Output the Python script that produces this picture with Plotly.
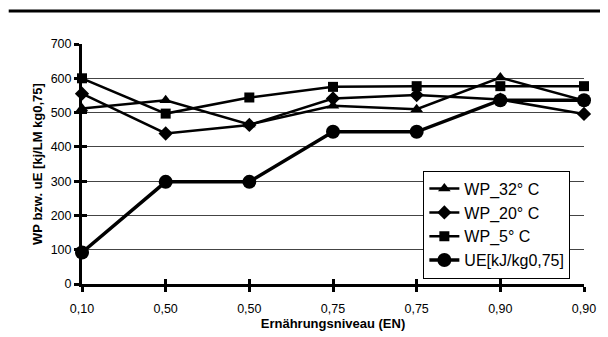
import plotly.graph_objects as go

# Data
tick_labels = ["0,10", "0,50", "0,50", "0,75", "0,75", "0,90", "0,90"]
positions = list(range(len(tick_labels)))
wp_32 = [512, 536, 465, 520, 510, 602, 535]
wp_20 = [555, 439, 464, 541, 551, 538, 496]
wp_5 = [600, 497, 544, 575, 577, 577, 577]
ue = [92, 298, 298, 444, 444, 536, 536]

series = [
    ("WP_32° C", wp_32, "triangle-up", 11, 2.5),
    ("WP_20° C", wp_20, "diamond", 11, 2.5),
    ("WP_5° C", wp_5, "square", 10, 2.5),
    ("UE[kJ/kg0,75]", ue, "circle", 14, 3.5),
]

fig = go.Figure()
for name, vals, sym, size, lw in series:
    fig.add_trace(go.Scatter(
        x=positions, y=vals, name=name, mode="lines+markers",
        line=dict(color="black", width=lw),
        marker=dict(symbol=sym, size=size, color="black"),
        cliponaxis=False,
    ))

# overlay axes for inward part of crossing ticks
fig.add_trace(go.Scatter(x=[0], y=[0], xaxis="x2", yaxis="y2", mode="markers",
                         marker=dict(opacity=0), showlegend=False, hoverinfo="skip"))

font = dict(family="Liberation Sans, Arial, sans-serif", color="black")
fig.update_layout(
    width=600, height=329,
    margin=dict(l=74, r=18, t=36, b=46),
    paper_bgcolor="white", plot_bgcolor="white",
    font=dict(**font, size=12),
    xaxis=dict(
        range=[0, 6], tickmode="array", tickvals=positions, ticktext=tick_labels,
        showline=True, linecolor="black", linewidth=3,
        ticks="outside", ticklen=5, tickwidth=3, tickcolor="black",
        showgrid=False, zeroline=False, ticklabelstandoff=6,
        tickfont=dict(size=12.5),
        title=dict(text="<b>Ernährungsniveau (EN)</b>", font=dict(size=13), standoff=0),
    ),
    yaxis=dict(
        range=[0, 700], dtick=100,
        showline=True, linecolor="black", linewidth=3,
        ticks="outside", ticklen=5, tickwidth=3, tickcolor="black",
        showgrid=True, gridcolor="#444444", gridwidth=1,
        zeroline=False, tickfont=dict(size=12.5),
        title=dict(text="<b>WP bzw. uE [kj/LM kg0,75]</b>", font=dict(size=13), standoff=6),
    ),
    xaxis2=dict(range=[0, 6], overlaying="x", tickmode="array", tickvals=positions,
                ticks="inside", ticklen=5, tickwidth=3, tickcolor="black",
                showticklabels=False, showgrid=False, zeroline=False, side="bottom"),
    yaxis2=dict(range=[0, 700], dtick=100, overlaying="y",
                ticks="inside", ticklen=5, tickwidth=3, tickcolor="black",
                showticklabels=False, showgrid=False, zeroline=False, side="left"),
    legend=dict(
        x=0.68, y=0.472, xanchor="left", yanchor="top",
        bgcolor="white", bordercolor="black", borderwidth=1,
        font=dict(size=16), itemwidth=30, tracegroupgap=0,
    ),
    shapes=[dict(type="line", xref="paper", yref="paper",
                 x0=-0.146, x1=1.04, y0=1.138, y1=1.138,
                 line=dict(color="black", width=3))],
)

fig.write_html("out.html")
